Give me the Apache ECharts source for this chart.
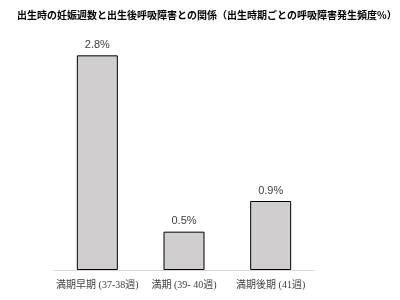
<!DOCTYPE html>
<html><head><meta charset="utf-8">
<script src="https://cdn.jsdelivr.net/npm/echarts@6/dist/echarts.min.js"></script>
<style>html,body{margin:0;padding:0;background:#fff}#c{width:400px;height:300px}</style>
</head><body><div id="c"></div>
<script>
var categories = ['満期早期 (37-38週)', '満期 (39- 40週)', '満期後期 (41週)'];
var values = [2.8, 0.5, 0.9];
var titleText = '出生時の妊娠週数と出生後呼吸障害との関係（出生時期ごとの呼吸障害発生頻度%）';

var chart = echarts.init(document.getElementById('c'), null, {renderer: 'canvas'});
chart.setOption({
  animation: false,
  backgroundColor: '#fff',
  title: {
    text: titleText, left: 12, top: 5,
    textStyle: {fontSize: 10, fontWeight: 'bold', color: '#000', fontFamily: '"Noto Sans CJK JP", sans-serif'}
  },
  grid: {left: 54, right: 86, top: 40, bottom: 30},
  xAxis: {
    type: 'category', data: categories,
    axisLine: {lineStyle: {color: '#d9d9d9'}},
    axisTick: {show: false},
    axisLabel: {interval: 0, color: '#404040', fontSize: 10, margin: 10, fontFamily: '"Liberation Serif", "Noto Sans CJK JP", serif'}
  },
  yAxis: {type: 'value', min: 0, max: 3, show: false},
  series: [{
    type: 'bar', data: values, barWidth: 41,
    itemStyle: {color: '#d0cece', borderColor: '#000', borderWidth: 1},
    label: {show: true, position: 'top', distance: 5, formatter: function(p){return p.value.toFixed(1) + '%';},
      color: '#404040', fontSize: 11, fontFamily: '"Liberation Sans", Arial, sans-serif'}
  }]
});
</script></body></html>
